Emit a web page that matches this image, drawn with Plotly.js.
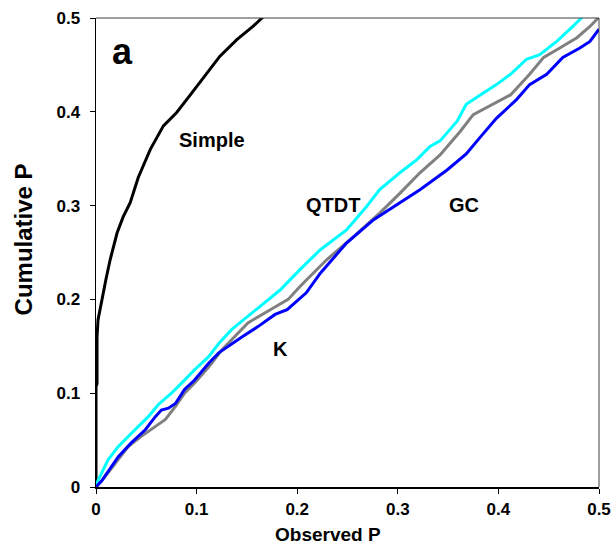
<!DOCTYPE html>
<html>
<head>
<meta charset="utf-8">
<script src="https://cdn.plot.ly/plotly-3.0.1.min.js"></script>
<style>html,body{margin:0;padding:0;background:#fff;}#chart{width:615px;height:547px;}</style>
</head>
<body>
<div id="chart"></div>
<script>
// Simple (black)
const simpleX = [0, 0, 0.001, 0.001, 0.002, 0.004, 0.006, 0.010, 0.014, 0.021, 0.027, 0.034, 0.042, 0.054, 0.067, 0.080, 0.093, 0.110, 0.123, 0.140, 0.156, 0.165, 0.170];
const simpleY = [0, 0.107, 0.110, 0.160, 0.178, 0.190, 0.200, 0.222, 0.242, 0.271, 0.288, 0.303, 0.330, 0.360, 0.385, 0.399, 0.417, 0.441, 0.459, 0.477, 0.491, 0.500, 0.505];
// QTDT (cyan)
const qtdtX = [0, 0.002, 0.012, 0.022, 0.035, 0.042, 0.052, 0.062, 0.075, 0.088, 0.098, 0.112, 0.122, 0.135, 0.151, 0.171, 0.183, 0.203, 0.223, 0.249, 0.269, 0.282, 0.302, 0.319, 0.332, 0.342, 0.359, 0.368, 0.382, 0.398, 0.412, 0.428, 0.441, 0.458, 0.474, 0.483, 0.490];
const qtdtY = [0, 0.007, 0.029, 0.043, 0.057, 0.064, 0.075, 0.088, 0.100, 0.114, 0.125, 0.139, 0.153, 0.168, 0.182, 0.200, 0.210, 0.232, 0.253, 0.274, 0.299, 0.317, 0.335, 0.349, 0.363, 0.369, 0.390, 0.408, 0.418, 0.429, 0.440, 0.456, 0.461, 0.475, 0.491, 0.500, 0.508];
// GC (gray)
const gcX = [0, 0.006, 0.019, 0.032, 0.045, 0.059, 0.069, 0.079, 0.088, 0.098, 0.112, 0.125, 0.138, 0.151, 0.175, 0.191, 0.203, 0.229, 0.256, 0.282, 0.302, 0.322, 0.342, 0.362, 0.375, 0.395, 0.412, 0.431, 0.445, 0.461, 0.478, 0.491, 0.500];
const gcY = [0, 0.007, 0.025, 0.043, 0.054, 0.064, 0.072, 0.086, 0.100, 0.111, 0.128, 0.146, 0.160, 0.175, 0.190, 0.200, 0.214, 0.242, 0.267, 0.292, 0.313, 0.335, 0.354, 0.379, 0.397, 0.408, 0.418, 0.440, 0.458, 0.468, 0.479, 0.491, 0.501];
// K (blue)
const kX = [0, 0.006, 0.022, 0.035, 0.049, 0.059, 0.065, 0.072, 0.079, 0.088, 0.098, 0.112, 0.122, 0.131, 0.145, 0.161, 0.178, 0.190, 0.209, 0.223, 0.249, 0.276, 0.296, 0.322, 0.349, 0.368, 0.382, 0.398, 0.418, 0.431, 0.448, 0.464, 0.481, 0.491, 0.500];
const kY = [0, 0.007, 0.032, 0.047, 0.061, 0.075, 0.082, 0.084, 0.089, 0.104, 0.114, 0.132, 0.143, 0.150, 0.160, 0.171, 0.184, 0.189, 0.207, 0.228, 0.260, 0.285, 0.299, 0.317, 0.338, 0.355, 0.373, 0.393, 0.413, 0.429, 0.440, 0.458, 0.468, 0.475, 0.488];

const labelText = ['Simple', 'QTDT', 'GC', 'K'];
const labelX = [0.115, 0.236, 0.366, 0.183];
const labelY = [0.370, 0.301, 0.301, 0.147];

const font = {family: '"Liberation Sans", Arial, sans-serif', color: '#000', weight: 'bold'};
const f = s => Object.assign({}, font, {size: s});

const traces = [
  {x: simpleX, y: simpleY, mode: 'lines', line: {color: '#000000', width: 3}, name: 'Simple'},
  {x: qtdtX, y: qtdtY, mode: 'lines', line: {color: '#00FFFF', width: 3}, name: 'QTDT'},
  {x: gcX, y: gcY, mode: 'lines', line: {color: '#808080', width: 3}, name: 'GC'},
  {x: kX, y: kY, mode: 'lines', line: {color: '#0000FF', width: 3}, name: 'K'}
];

const annotations = labelText.map((t, i) => ({
  x: labelX[i], y: labelY[i], xref: 'x', yref: 'y', text: t, showarrow: false, font: f(20)
}));
annotations.push({x: 0.026, y: 0.464, xref: 'x', yref: 'y', text: 'a', showarrow: false, font: f(36)});
annotations.push({x: 0.461, y: -0.126, xref: 'paper', yref: 'paper', text: 'Observed P', showarrow: false,
  font: f(19), xanchor: 'center', yanchor: 'bottom', borderpad: 0});
annotations.push({x: -0.145, y: 0.528, xref: 'paper', yref: 'paper', text: 'Cumulative P', showarrow: false,
  font: f(24), textangle: -90, xanchor: 'center', yanchor: 'middle'});

const layout = {
  width: 615, height: 547,
  margin: {l: 96, r: 16, t: 18, b: 60},
  paper_bgcolor: '#fff', plot_bgcolor: '#fff',
  showlegend: false,
  xaxis: {
    range: [0, 0.5], dtick: 0.1, tick0: 0, ticks: 'outside', ticklen: 5, tickcolor: '#000', tickwidth: 1,
    showgrid: false, zeroline: false, showline: true, linecolor: '#000', linewidth: 1.5,
    tickfont: f(17), ticklabelstandoff: 1
  },
  yaxis: {
    range: [0, 0.5], dtick: 0.1, tick0: 0, ticks: 'outside', ticklen: 5, tickcolor: '#000', tickwidth: 1,
    showgrid: false, zeroline: false, showline: true, linecolor: '#000', linewidth: 1.5,
    tickfont: f(17), ticklabelstandoff: 6
  },
  shapes: [
    {type: 'line', xref: 'paper', yref: 'paper', x0: 0, x1: 1, y0: 1, y1: 1, line: {color: '#404040', width: 1}},
    {type: 'line', xref: 'paper', yref: 'paper', x0: 1, x1: 1, y0: 0, y1: 1, line: {color: '#404040', width: 1}}
  ],
  annotations: annotations
};

Plotly.newPlot('chart', traces, layout, {staticPlot: true});
</script>
</body>
</html>
